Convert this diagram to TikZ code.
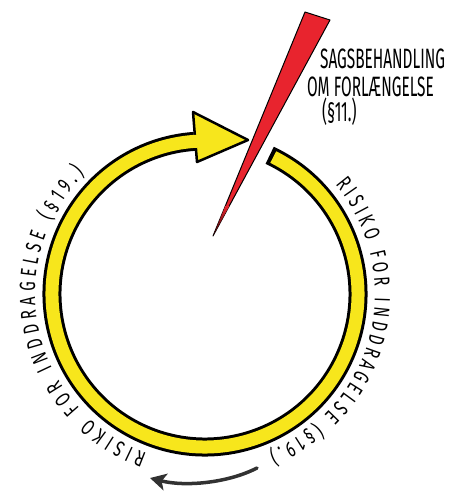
\documentclass[tikz,border=0pt]{standalone}
\usepackage{fontspec}
\newfontfamily\hand[FakeStretch=0.55]{Fira Sans}
\newfontfamily\handc[FakeStretch=0.68]{Fira Sans}
\usetikzlibrary{arrows.meta,decorations.text}
\definecolor{ringyellow}{RGB}{247,230,28}
\definecolor{needlered}{RGB}{232,36,46}
\definecolor{arrowgray}{RGB}{50,50,50}
\newcommand\curvefont{\handc\fontsize{22}{22}\selectfont}
\tikzset{
  ringborder/.style={draw=black, line width=19pt},
  ringfill/.style={draw=ringyellow, line width=13pt},
  headbox/.style={draw=black, line width=2.5pt, fill=ringyellow, line join=round},
  needle/.style={draw=black, line width=1pt, fill=needlered, line join=round},
  toptext/.style={anchor=west, inner sep=0pt, font=\hand\fontsize{28}{28}\selectfont},
  botarrow/.style={draw=arrowgray, line width=3.5pt, line cap=round, -{Stealth[length=16pt,width=17pt,inset=4pt]}},
  curvetext/.style={decorate, decoration={text along path, text align={fit to path}, text={|\curvefont|#1}}}
}
\begin{document}
\begin{tikzpicture}[x=1pt,y=1pt]
\useasboundingbox (0,0) rectangle (454,491);
\coordinate (C) at (205,197);
% ring
\draw[ringborder] (C) ++(65:153) arc[start angle=65, end angle=-266, radius=153];
\draw[headbox] (193,379) -- (248,351) -- (197,329) -- cycle;
\draw[ringfill] (C) ++(63.5:153) arc[start angle=63.5, end angle=-270, radius=153];
% needle
\coordinate (n1) at (213,255);
\coordinate (n2) at (305,479);
\coordinate (n3) at (330,471);
\draw[needle] (n1) -- (n2) -- (n3) -- cycle;
\shade[bottom color=black!85!red, top color=needlered] (n1) -- (225.3,285) -- (229.3,285) -- cycle;
% top text
\node[toptext] (t1) at (320,432) {SAGSBEHANDLING};
\node[toptext] (t2) at (307,404) {OM FORLÆNGELSE};
\node[toptext] (t3) at (322,379) {(§11.)};
% curved texts
\path[curvetext={RISIKO FOR INDDRAGELSE (§19.)}] (C) ++(40:170) arc[start angle=40, end angle=-68, radius=170];
\path[curvetext={RISIKO FOR INDDRAGELSE (§19.)}] (C) ++(250:170) arc[start angle=250, end angle=135, radius=170];
% bottom arrow
\coordinate (a1) at (257,23);
\coordinate (a2) at (150,13);
\draw[botarrow] (a1) .. controls (228,8) and (185,4) .. (a2);
\end{tikzpicture}
\end{document}
